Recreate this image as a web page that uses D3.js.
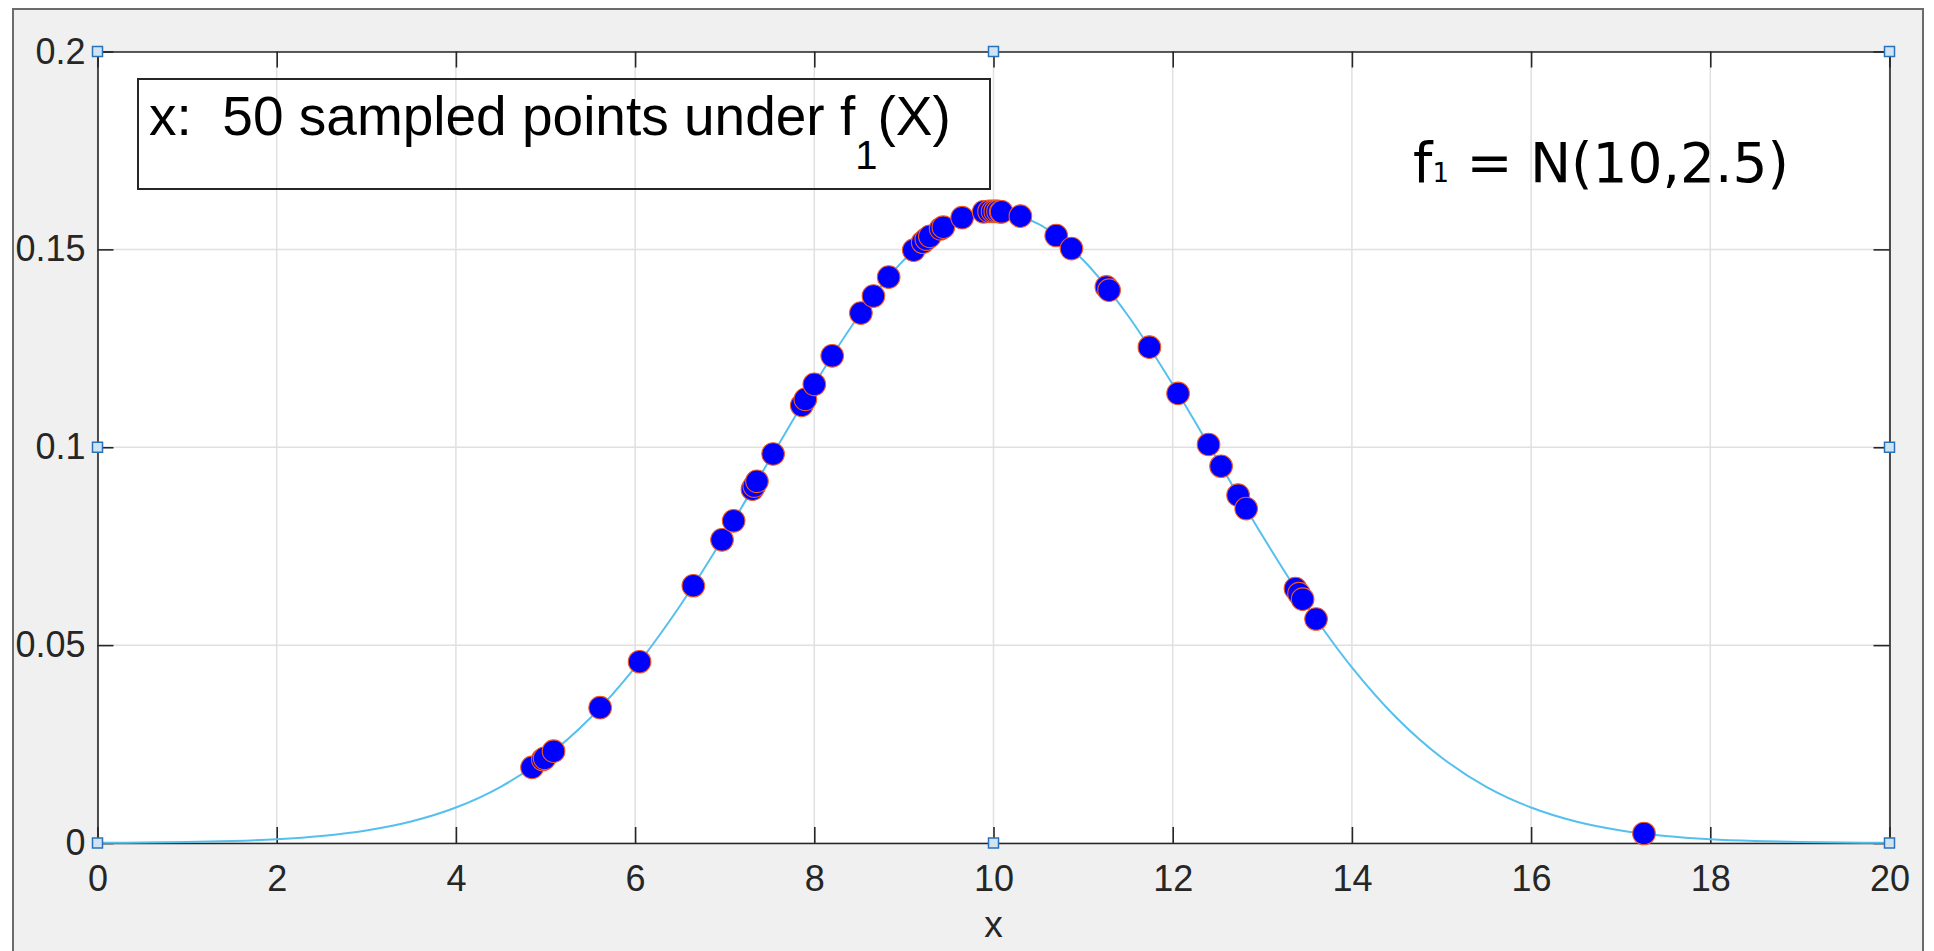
<!DOCTYPE html>
<html><head><meta charset="utf-8">
<script src="https://cdn.jsdelivr.net/npm/d3@7/dist/d3.min.js"></script>
<style>html,body{margin:0;padding:0;background:#fff;overflow:hidden}</style>
</head><body>
<svg id="chart" width="1934" height="951"></svg>
<script>
// ---- data ----
const xTicks = [0, 2, 4, 6, 8, 10, 12, 14, 16, 18, 20];
const xTickLabels = ["0","2","4","6","8","10","12","14","16","18","20"];
const yTicks = [0, 0.05, 0.1, 0.15, 0.2];
const yTickLabels = ["0","0.05","0.1","0.15","0.2"];

// density curve f1, read at every 0.5 on x
const curveX = [0,0.5,1,1.5,2,2.5,3,3.5,4,4.5,5,5.5,6,6.5,7,7.5,8,8.5,9,9.5,10,
                10.5,11,11.5,12,12.5,13,13.5,14,14.5,15,15.5,16,16.5,17,17.5,18,18.5,19,19.5,20];
const curveY = [0.00005,0.00012,0.00024,0.00049,0.00095,0.00177,0.00317,0.00543,0.00896,0.01419,
                0.02160,0.03158,0.04437,0.05989,0.07768,0.09679,0.11588,0.13329,0.14731,0.15642,0.15958,
                0.15642,0.14731,0.13329,0.11588,0.09679,0.07768,0.05989,0.04437,0.03158,0.02160,
                0.01419,0.00896,0.00543,0.00317,0.00177,0.00095,0.00049,0.00024,0.00012,0.00005];

// the 50 sampled points
const sampleX = [4.85,4.97,4.99,5.09,5.61,6.05,6.65,6.97,7.10,7.31,7.33,7.36,7.54,7.86,7.90,8.00,8.20,8.52,8.66,8.83,
                 9.11,9.21,9.25,9.29,9.41,9.44,9.65,9.89,9.95,9.99,10.02,10.05,10.08,10.09,10.30,10.70,10.87,11.26,11.29,11.74,
                 12.06,12.40,12.54,12.73,12.82,13.37,13.41,13.45,13.60,17.26];
const sampleY = [0.0191,0.0211,0.0214,0.0232,0.0342,0.0458,0.0650,0.0766,0.0814,0.0894,0.0902,0.0914,0.0983,0.1106,0.1121,0.1159,0.1231,0.1339,0.1382,0.1430,
                 0.1498,0.1518,0.1526,0.1533,0.1552,0.1556,0.1580,0.1595,0.1596,0.1596,0.1596,0.1596,0.1595,0.1595,0.1584,0.1535,0.1502,0.1405,0.1397,0.1253,
                 0.1136,0.1007,0.0952,0.0879,0.0845,0.0643,0.0630,0.0616,0.0566,0.0024];

// selection handles on the axes
const handleX = [0, 10, 20, 0, 20, 0, 10, 20];
const handleY = [0.2, 0.2, 0.2, 0.1, 0.1, 0, 0, 0];

const boxText = "x:  50 sampled points under f";
const boxSub = "1";
const boxTail = "(X)";
const formulaMain = "f";
const formulaSub = "1";
const formulaTail = " = N(10,2.5)";
const xLabel = "x";

// ---- drawing ----
const svg = d3.select("#chart");
const W = 1934, H = 951;
const L = 97.5, R = 1889.5, T = 51.5, B = 843;
const x = d3.scaleLinear().domain([0, 20]).range([L, R]);
const y = d3.scaleLinear().domain([0, 0.2]).range([B, T]);
const axisColor = "#262626";
const font = "'Liberation Sans', Arial, Helvetica, sans-serif";

svg.append("rect").attr("width", W).attr("height", H).attr("fill", "#ffffff");
svg.append("rect").attr("x", 13).attr("y", 9).attr("width", 1910).attr("height", 980)
  .attr("fill", "#f0f0f0").attr("stroke", "#6b6b6b").attr("stroke-width", 2);
svg.append("rect").attr("x", L).attr("y", T).attr("width", R - L).attr("height", B - T).attr("fill", "#ffffff");

// grid
const grid = svg.append("g");
grid.selectAll("line.vx").data(xTicks).join("line")
  .attr("x1", d => x(d)).attr("x2", d => x(d)).attr("y1", T).attr("y2", B)
  .attr("stroke", "#e0e0e0").attr("stroke-width", 1.5);
grid.selectAll("line.hy").data(yTicks).join("line")
  .attr("y1", d => y(d)).attr("y2", d => y(d)).attr("x1", L).attr("x2", R)
  .attr("stroke", "#e0e0e0").attr("stroke-width", 1.5);

function styleAxis(g) {
  g.select(".domain").attr("stroke", axisColor).attr("stroke-width", 1.6);
  g.selectAll(".tick line").attr("stroke", axisColor).attr("stroke-width", 1.6);
  g.selectAll(".tick text").attr("fill", axisColor).attr("font-family", font).attr("font-size", 36);
}
const xi = d3.scaleOrdinal().domain(xTicks).range(xTickLabels);
const yi = d3.scaleOrdinal().domain(yTicks).range(yTickLabels);

svg.append("g").attr("transform", `translate(0,${B})`)
  .call(d3.axisBottom(x).tickValues(xTicks).tickFormat(d => xi(d)).tickSizeInner(-16).tickSizeOuter(0).tickPadding(22))
  .call(styleAxis);
svg.append("g").attr("transform", `translate(0,${T})`)
  .call(d3.axisTop(x).tickValues(xTicks).tickFormat("").tickSizeInner(-16).tickSizeOuter(0))
  .call(styleAxis);
svg.append("g").attr("transform", `translate(${L},0)`)
  .call(d3.axisLeft(y).tickValues(yTicks).tickFormat(d => yi(d)).tickSizeInner(-16).tickSizeOuter(0).tickPadding(12))
  .call(styleAxis);
svg.append("g").attr("transform", `translate(${R},0)`)
  .call(d3.axisRight(y).tickValues(yTicks).tickFormat("").tickSizeInner(-16).tickSizeOuter(0))
  .call(styleAxis);

// curve
const line = d3.line().x((d, i) => x(curveX[i])).y(d => y(d)).curve(d3.curveCatmullRom);
svg.append("path").datum(curveY).attr("d", line)
  .attr("fill", "none").attr("stroke", "#55c0ee").attr("stroke-width", 2);

// points
svg.append("g").selectAll("circle").data(sampleX).join("circle")
  .attr("cx", d => x(d)).attr("cy", (d, i) => y(sampleY[i])).attr("r", 11.3)
  .attr("fill", "#0000ff").attr("stroke", "#f25a1d").attr("stroke-width", 1.1);

// handles
svg.append("g").selectAll("rect").data(handleX).join("rect")
  .attr("x", d => x(d) - 5).attr("y", (d, i) => y(handleY[i]) - 5)
  .attr("width", 10).attr("height", 10)
  .attr("fill", "#cfe3f5").attr("stroke", "#2a72b8").attr("stroke-width", 1.5);

// x label
svg.append("text").attr("x", x(10)).attr("y", 937).attr("text-anchor", "middle")
  .attr("font-family", font).attr("font-size", 37).attr("fill", axisColor).text(xLabel);

// annotation box
svg.append("rect").attr("x", 138).attr("y", 79).attr("width", 852).attr("height", 110)
  .attr("fill", "none").attr("stroke", "#262626").attr("stroke-width", 2);
const bt = svg.append("text").attr("x", 149).attr("y", 135)
  .attr("font-family", font).attr("font-size", 55).attr("fill", "#000")
  .style("white-space", "pre");
bt.append("tspan").text(boxText);
bt.append("tspan").attr("font-size", 40).attr("dy", 34).text(boxSub);
bt.append("tspan").attr("dy", -34).text(boxTail);

// formula
const ft = svg.append("text").attr("x", 1413).attr("y", 182)
  .attr("font-family", "'DejaVu Sans', Verdana, sans-serif").attr("font-size", 55).attr("fill", "#000")
  .style("white-space", "pre");
ft.append("tspan").text(formulaMain);
ft.append("tspan").attr("font-size", 26).text(formulaSub);
ft.append("tspan").text(formulaTail);
</script>
</body></html>
